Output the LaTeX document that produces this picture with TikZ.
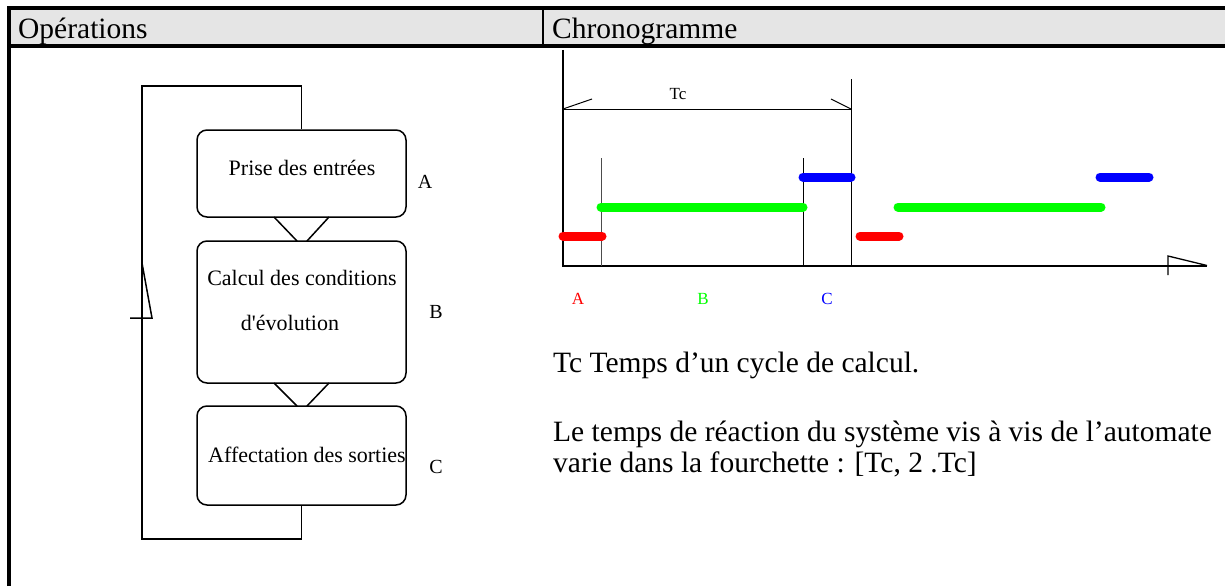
\documentclass[tikz,border=0pt]{standalone}
\usepackage{fontspec}
\setmainfont{Liberation Serif}
\usetikzlibrary{positioning}

\tikzset{
  etape/.style={draw,rounded corners=10pt,line width=1.5pt,minimum width=209pt,inner sep=0pt},
  txtbox/.style={anchor=base,inner sep=0pt,font=\fontsize{22}{26}\selectfont},
  corps/.style={anchor=base west,inner sep=0pt,font=\fontsize{29.5}{32}\selectfont},
  petit/.style={anchor=base,inner sep=0pt,font=\fontsize{17}{20}\selectfont},
  barre/.style={line width=9pt,line cap=round},
}

\begin{document}
\begin{tikzpicture}[x=1pt,y=-1pt]
\useasboundingbox (0,0) rectangle (1225,586);
% tableau
\fill[black!10] (9,10) rectangle (1225,44);
\draw[line width=4pt] (9,586) -- (9,8) -- (1225,8);
\draw[line width=4pt] (9,46) -- (1225,46);
\draw[line width=1.2pt] (543,10) -- (543,44);
\node[corps] (titreop) at (18,38) {Opérations};
\node[corps] (titrech) at (552,38) {Chronogramme};

% operations
\node[etape,minimum height=87pt] (prise) at (301.5,173.5) {};
\node[etape,minimum height=142pt] (calcul) at (301.5,312) {};
\node[etape,minimum height=99pt] (affect) at (301.5,455.5) {};
\node[txtbox] (priseT) at (302,175) {Prise des entrées};
\node[txtbox] (calculT) at (302,285) {Calcul des conditions};
\node[txtbox] (calculT2) at (290,330) {d\textquotesingle évolution};
\node[txtbox] (affectT) at (307,462) {Affectation des sorties};
\draw[line width=1.5pt] (274,217) -- (297,241) (329,217) -- (307,241);
\draw[line width=1.5pt] (274,383) -- (297,406) (329,383) -- (307,406);
\draw[line width=1.5pt] (affect.south) |- (142,539) -- (142,86) -| (prise.north);
\draw[line width=1.5pt] (142,263) -- (152,318) -- (130,318);
\node[anchor=base,inner sep=0pt,font=\fontsize{20}{24}\selectfont] (labA) at (425,188) {A};
\node[anchor=base,inner sep=0pt,font=\fontsize{20}{24}\selectfont] (labB) at (436,318) {B};
\node[anchor=base,inner sep=0pt,font=\fontsize{20}{24}\selectfont] (labC) at (436,473) {C};

% chronogramme
\draw[line width=1.3pt] (563,50) -- (563,266) -- (1207,266);
\draw[line width=1.3pt] (1168,275) -- (1168,256) -- (1207,265.5);
\draw[line width=1pt] (563,109) -- (851,109);
\draw[line width=1pt] (563,109) -- (592,99) (851,109) -- (831,99);
\node[petit] (tc) at (678,99) {Tc};
\draw[line width=1pt] (851,79) -- (851,266);
\draw[line width=1pt,black!70] (601,158) -- (601,266);
\draw[line width=1pt] (803,158) -- (803,266);
\draw[barre,red] (563,236) -- (602,236);
\draw[barre,green] (601,207) -- (803,207);
\draw[barre,blue] (803,177) -- (851,177);
\draw[barre,red] (860,236) -- (899,236);
\draw[barre,green] (898,207) -- (1101,207);
\draw[barre,blue] (1100,177) -- (1149,177);
\node[petit,red] (chA) at (578,304) {A};
\node[petit,green] (chB) at (703,304) {B};
\node[petit,blue] (chC) at (827,304) {C};

\node[corps] (ligne1) at (553,372) {Tc Temps d’un cycle de calcul.};
\node[corps] (ligne2) at (553,441) {Le temps de réaction du système vis à vis de l’automate};
\node[corps] (ligne3) at (553,472) {varie dans la fourchette : [Tc, 2 .Tc]};
\end{tikzpicture}
\end{document}
